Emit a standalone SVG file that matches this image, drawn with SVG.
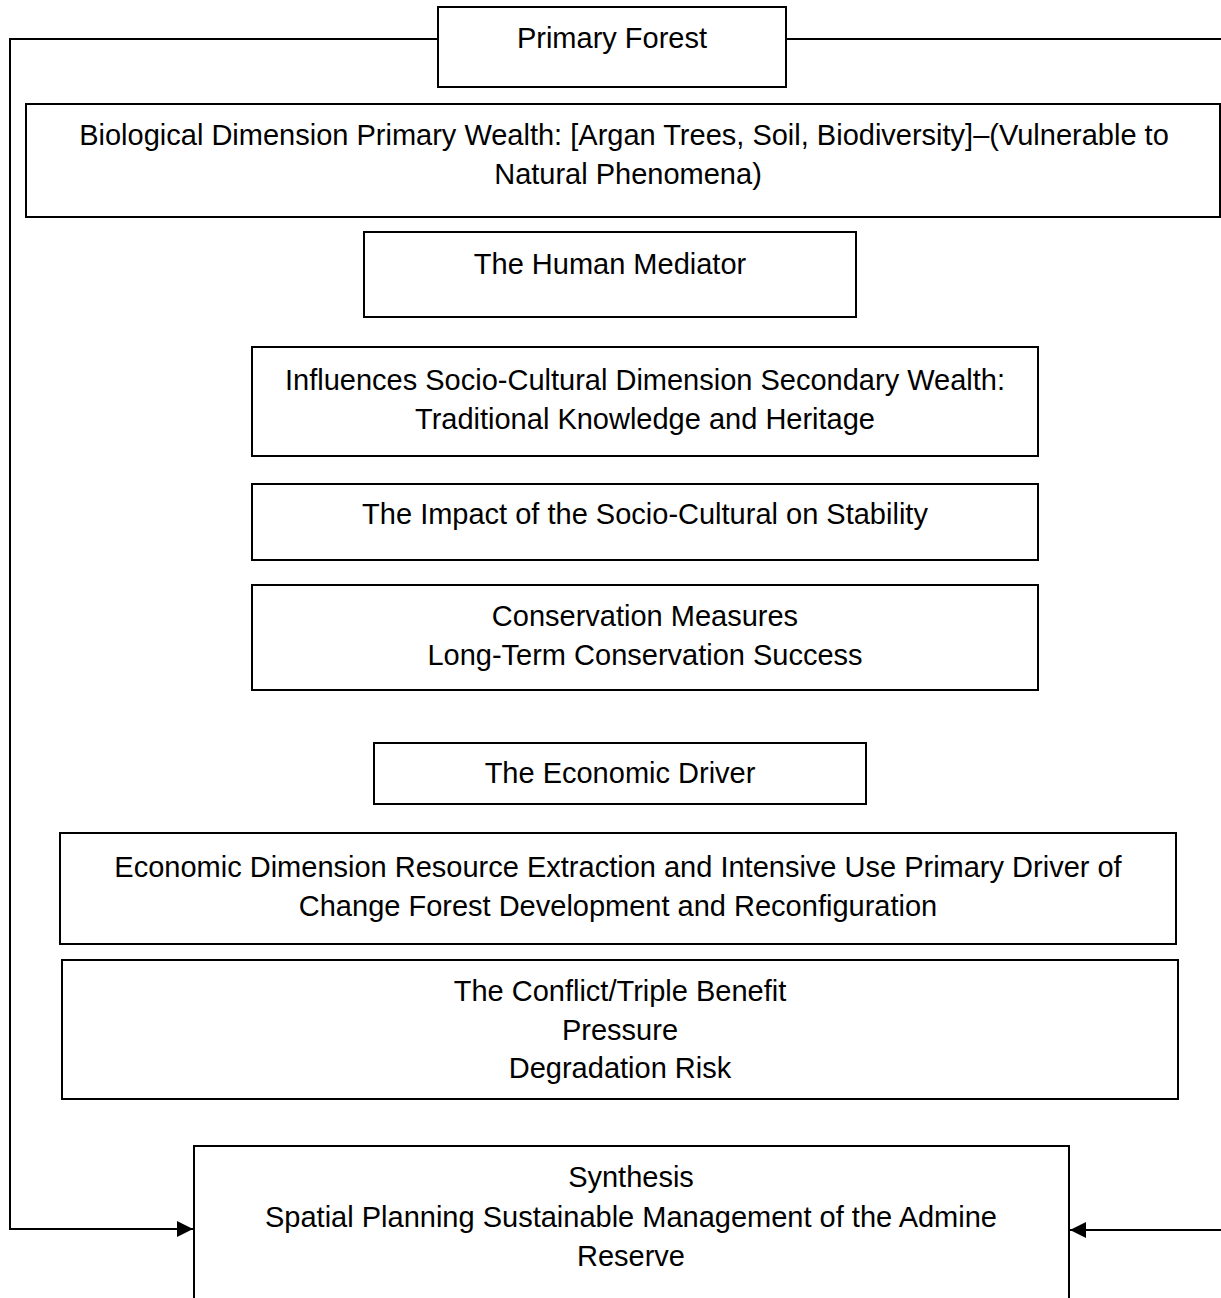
<svg xmlns="http://www.w3.org/2000/svg" width="1221" height="1298" viewBox="0 0 1221 1298">
  <style>
    .box { fill: #ffffff; stroke: #000000; stroke-width: 2; }
    .lbl { font-family: "Liberation Sans", Arial, sans-serif; font-size: 29px; fill: #000000; text-anchor: middle; }
    .conn { fill: none; stroke: #000000; stroke-width: 2; }
  </style>
  <defs>
    <marker id="arrow" viewBox="0 0 16 16" refX="16" refY="8" markerWidth="16" markerHeight="16" markerUnits="userSpaceOnUse" orient="auto">
      <path d="M0,0 L16,8 L0,16 Z" fill="#000000"/>
    </marker>
  </defs>
  <rect width="1221" height="1298" fill="#ffffff"/>

  <g id="connectors">
    <path class="conn" d="M438,39 H10 V1229 H193" marker-end="url(#arrow)"/>
    <path class="conn" d="M786,39 H1223 V1230 H1070" marker-end="url(#arrow)"/>
  </g>

  <g id="primary-forest">
    <rect class="box" x="438" y="7" width="348" height="80"/>
    <text class="lbl" x="612" y="48">Primary Forest</text>
  </g>

  <g id="biological-dimension">
    <rect class="box" x="26" y="104" width="1194" height="113"/>
    <text class="lbl" x="624" y="145">Biological Dimension Primary Wealth: [Argan Trees, Soil, Biodiversity]–(Vulnerable to</text>
    <text class="lbl" x="628" y="184">Natural Phenomena)</text>
  </g>

  <g id="human-mediator">
    <rect class="box" x="364" y="232" width="492" height="85"/>
    <text class="lbl" x="610" y="274">The Human Mediator</text>
  </g>

  <g id="socio-cultural">
    <rect class="box" x="252" y="347" width="786" height="109"/>
    <text class="lbl" x="645" y="390">Influences Socio-Cultural Dimension Secondary Wealth:</text>
    <text class="lbl" x="645" y="429">Traditional Knowledge and Heritage</text>
  </g>

  <g id="impact">
    <rect class="box" x="252" y="484" width="786" height="76"/>
    <text class="lbl" x="645" y="524">The Impact of the Socio-Cultural on Stability</text>
  </g>

  <g id="conservation">
    <rect class="box" x="252" y="585" width="786" height="105"/>
    <text class="lbl" x="645" y="626">Conservation Measures</text>
    <text class="lbl" x="645" y="665">Long-Term Conservation Success</text>
  </g>

  <g id="economic-driver">
    <rect class="box" x="374" y="743" width="492" height="61"/>
    <text class="lbl" x="620" y="783">The Economic Driver</text>
  </g>

  <g id="economic-dimension">
    <rect class="box" x="60" y="833" width="1116" height="111"/>
    <text class="lbl" x="618" y="877">Economic Dimension Resource Extraction and Intensive Use Primary Driver of</text>
    <text class="lbl" x="618" y="916">Change Forest Development and Reconfiguration</text>
  </g>

  <g id="conflict">
    <rect class="box" x="62" y="960" width="1116" height="139"/>
    <text class="lbl" x="620" y="1001">The Conflict/Triple Benefit</text>
    <text class="lbl" x="620" y="1040">Pressure</text>
    <text class="lbl" x="620" y="1078">Degradation Risk</text>
  </g>

  <g id="synthesis">
    <rect class="box" x="194" y="1146" width="875" height="170"/>
    <text class="lbl" x="631" y="1187">Synthesis</text>
    <text class="lbl" x="631" y="1227">Spatial Planning Sustainable Management of the Admine</text>
    <text class="lbl" x="631" y="1266">Reserve</text>
  </g>
</svg>
